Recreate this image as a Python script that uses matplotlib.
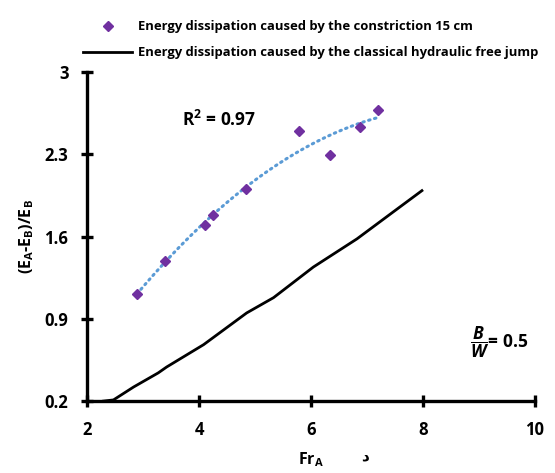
import numpy as np
import matplotlib
matplotlib.use("Agg")
from matplotlib import pyplot as plt
from matplotlib.lines import Line2D

FONT = "Open Sans"
plt.rcParams["font.family"] = [FONT, "DejaVu Sans"]
plt.rcParams["font.weight"] = "bold"
plt.rcParams["mathtext.fontset"] = "custom"
plt.rcParams["mathtext.rm"] = FONT + ":bold"
plt.rcParams["mathtext.it"] = FONT + ":bold:italic"
plt.rcParams["mathtext.bf"] = FONT + ":bold"

# measured points (constriction 15 cm)
fr_meas = [2.89, 3.39, 4.10, 4.24, 4.83, 5.79, 6.34, 6.88, 7.20]
loss_meas = [1.11, 1.39, 1.70, 1.78, 2.00, 2.50, 2.29, 2.53, 2.68]

# classical free jump curve
fr_free = [2.29, 2.47, 2.83, 3.27, 3.42, 4.08, 4.85, 5.33, 6.04, 6.82, 7.47, 7.98]
loss_free = [0.20, 0.21, 0.32, 0.44, 0.49, 0.68, 0.95, 1.08, 1.34, 1.58, 1.81, 1.99]

x_ticks = [2, 4, 6, 8, 10]
y_ticks = [0.2, 0.9, 1.6, 2.3, 3.0]
y_tick_labels = ["0.2", "0.9", "1.6", "2.3", "3"]

fig = plt.figure(figsize=(5.55, 4.73), dpi=100)
ax = fig.add_axes([0.157, 0.152, 0.807, 0.696])

ax.plot(fr_free, loss_free, color="black", linewidth=2.0, zorder=2)

# 2nd order trendline like the spreadsheet
coef = np.polyfit(fr_meas, loss_meas, 2)
xs = np.linspace(min(fr_meas), max(fr_meas), 100)
ax.plot(xs, np.polyval(coef, xs), color="#5B9BD5", linewidth=2.2,
        linestyle=(0, (0.5, 1.5)), dash_capstyle="round", zorder=3)
ax.plot(fr_meas, loss_meas, linestyle="none", marker="D", markersize=5.5,
        color="#7030A0", zorder=4)

ax.set_xlim(2, 10)
ax.set_ylim(0.2, 3.0)
ax.set_xticks(x_ticks)
ax.set_yticks(y_ticks)
ax.set_yticklabels(y_tick_labels)
for s in ["top", "right"]:
    ax.spines[s].set_visible(False)
for s in ["left", "bottom"]:
    ax.spines[s].set_linewidth(2.4)
ax.tick_params(direction="inout", length=9, width=2.4, labelsize=12)
ax.tick_params(axis="x", pad=10)
ax.tick_params(axis="y", pad=9)
for t in ax.get_xticklabels() + ax.get_yticklabels():
    t.set_fontweight("bold")

ax.set_xlabel(r"Fr$_\mathrm{A}$", fontsize=11.5, fontweight="bold", labelpad=8)
ax.set_ylabel(r"(E$_\mathrm{A}$-E$_\mathrm{B}$)/E$_\mathrm{B}$", fontsize=11.5,
              fontweight="bold", labelpad=6)

ax.text(3.7, 2.59, r"R$^\mathrm{2}$ = 0.97", fontsize=12.5, fontweight="bold",
        ha="left", va="center")
ax.text(8.83, 0.70, r"$\dfrac{B}{W}$= 0.5", fontsize=12.5, fontweight="bold",
        ha="left", va="center")
fig.text(0.658, 0.036, "د", fontsize=11, family="DejaVu Sans",
         ha="center", va="center")

handles = [
    Line2D([], [], linestyle="none", marker="D", markersize=5, color="#7030A0"),
    Line2D([], [], color="black", linewidth=2),
]
labels = [
    "Energy dissipation caused by the constriction 15 cm",
    "Energy dissipation caused by the classical hydraulic free jump",
]
fig.legend(handles, labels, loc="upper left", bbox_to_anchor=(0.141, 0.968),
           frameon=False, fontsize=9.4, handlelength=3.7, handletextpad=0.5,
           labelspacing=1.0, borderaxespad=0)

fig.savefig("out.png", dpi=100)
